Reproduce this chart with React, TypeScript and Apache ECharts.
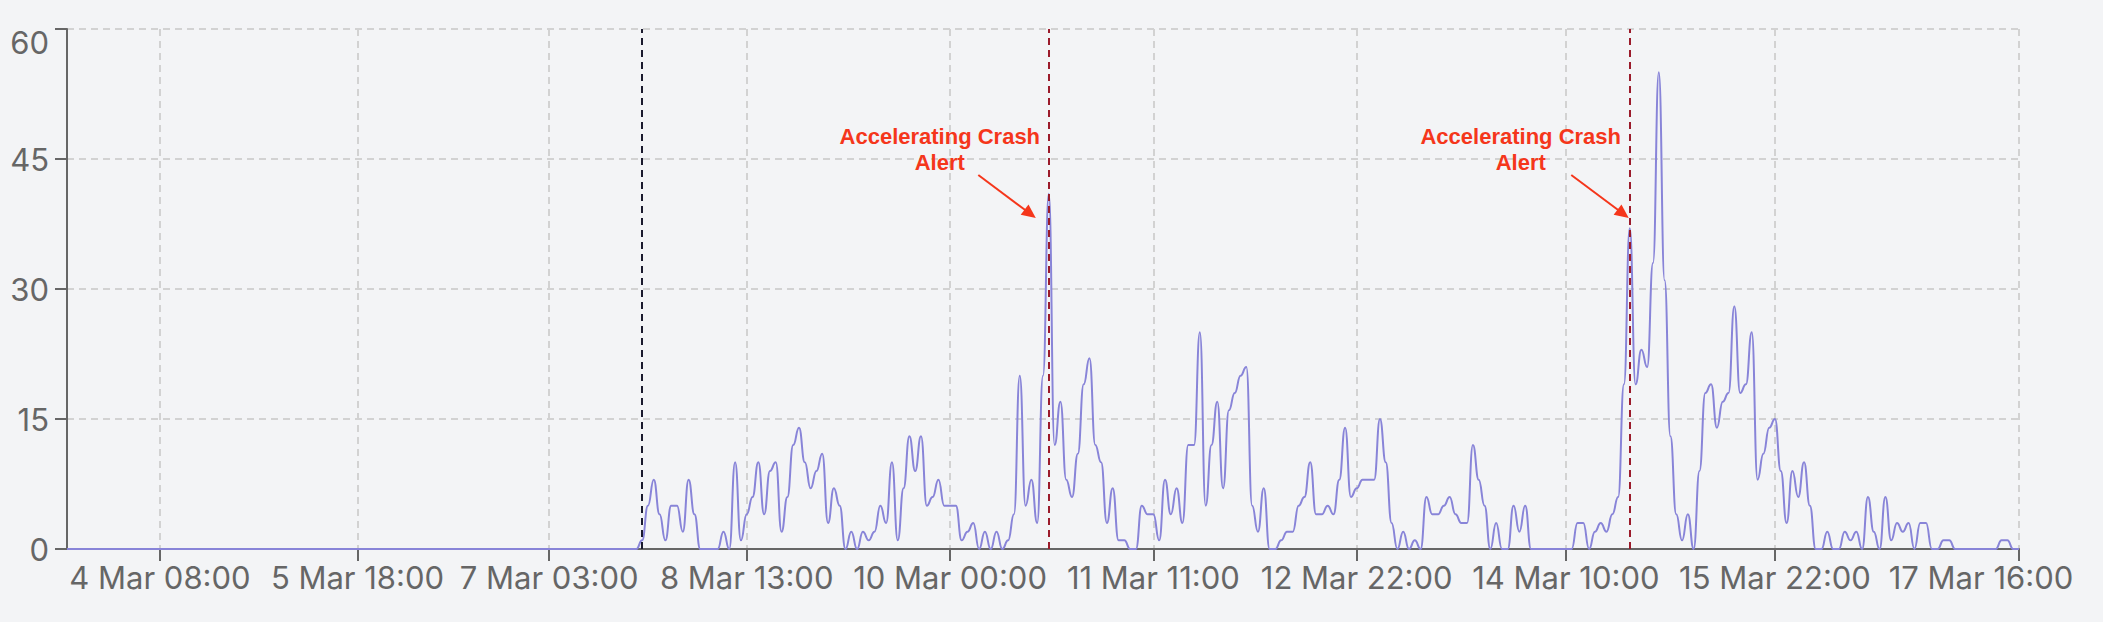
import React, { useEffect, useRef } from "react";
import * as echarts from "echarts";

// ---- data -------------------------------------------------------------
// hourly buckets from 3 Mar 16:00 to 17 Mar 16:00
const START_DAY = 3;
const START_HOUR = 16;
const HOUR_COUNT = 337;

const TICK_LABELS = [
  "4 Mar 08:00",
  "5 Mar 18:00",
  "7 Mar 03:00",
  "8 Mar 13:00",
  "10 Mar 00:00",
  "11 Mar 11:00",
  "12 Mar 22:00",
  "14 Mar 10:00",
  "15 Mar 22:00",
  "17 Mar 16:00",
];

const Y_TICKS = [0, 15, 30, 45, 60];

const VALUES = [
  // 3 Mar 16:00 .. 7 Mar 18:00 (all zero)
  0, 0, 0, 0, 0, 0, 0, 0, 0, 0,
  0, 0, 0, 0, 0, 0, 0, 0, 0, 0,
  0, 0, 0, 0, 0, 0, 0, 0, 0, 0,
  0, 0, 0, 0, 0, 0, 0, 0, 0, 0,
  0, 0, 0, 0, 0, 0, 0, 0, 0, 0,
  0, 0, 0, 0, 0, 0, 0, 0, 0, 0,
  0, 0, 0, 0, 0, 0, 0, 0, 0, 0,
  0, 0, 0, 0, 0, 0, 0, 0, 0, 0,
  0, 0, 0, 0, 0, 0, 0, 0, 0, 0,
  0, 0, 0, 0, 0, 0, 0, 0, 0,
  // 7 Mar 19:00 ..
  1, 5, 8, 4, 1, 5, 5, 2, 8, 4,
  0, 0, 0, 0, 2, 0, 10, 1, 4, 6,
  10, 4, 9, 10, 2, 6, 12, 14, 10, 7,
  9, 11, 3, 7, 5, 0, 2, 0, 2, 1,
  2, 5, 3, 10, 1, 7, 13, 9, 13, 5,
  6, 8, 5, 5, 5, 1, 2, 3, 0, 2,
  0, 2, 0, 1, 4, 20, 5, 8, 3, 20,
  41, 12, 17, 8, 6, 11, 19, 22, 12, 10,
  3, 7, 1, 1, 0, 0, 5, 4, 4, 1,
  8, 4, 7, 3, 12, 12, 25, 5, 12, 17,
  7, 16, 18, 20, 21, 5, 2, 7, 0, 0,
  1, 2, 2, 5, 6, 10, 4, 4, 5, 4,
  8, 14, 6, 7, 8, 8, 8, 15, 10, 3,
  0, 2, 0, 1, 0, 6, 4, 4, 5, 6,
  4, 3, 3, 12, 8, 5, 0, 3, 0, 0,
  5, 2, 5, 0, 0, 0, 0, 0, 0, 0,
  0, 3, 3, 0, 2, 3, 2, 4, 6, 19,
  37, 19, 23, 21, 33, 55, 31, 13, 4, 1,
  4, 0, 9, 18, 19, 14, 17, 18, 28, 18,
  19, 25, 8, 11, 14, 15, 9, 3, 9, 6,
  10, 5, 0, 0, 2, 0, 0, 2, 1, 2,
  0, 6, 2, 0, 6, 1, 3, 2, 3, 0,
  3, 3, 0, 0, 1, 1, 0, 0, 0, 0,
  0, 0, 0, 0, 1, 1, 0, 0,
];

const START_MARK = "7 Mar 19:00";
const ALERT_MARKS = ["10 Mar 17:00", "14 Mar 21:00"];
const ALERT_LINE_1 = "Accelerating Crash";
const ALERT_LINE_2 = "Alert";
const ARROW_TIP_DX = [-13, -1];

// ---- helpers -----------------------------------------------------------
const pad = (n: number) => (n < 10 ? "0" + n : String(n));
const CATEGORIES: string[] = [];
for (let i = 0; i < HOUR_COUNT; i++) {
  const h = START_HOUR + i;
  CATEGORIES.push(`${START_DAY + Math.floor(h / 24)} Mar ${pad(h % 24)}:00`);
}

const AXIS_GREY = "#666666";
const GRID_GREY = "#d2d2d2";
const LINE_COLOR = "#8884d8";
const ALERT_RED = "#f5361b";
const ALERT_LINE = "#9b1b2b";
const FONT = "Inter, 'Noto Sans', sans-serif";
const FONT_SIZE = 31;

export default function App() {
  const ref = useRef<HTMLDivElement>(null);

  useEffect(() => {
    if (!ref.current) return;
    document.body.style.margin = "0";
    document.body.style.background = "#f3f4f6";
    const chart = echarts.init(ref.current, undefined, { renderer: "svg" });
    const isTick = (_i: number, v: string) => TICK_LABELS.indexOf(v) >= 0;
    const last = TICK_LABELS[TICK_LABELS.length - 1];

    chart.setOption({
      animation: false,
      backgroundColor: "#f3f4f6",
      grid: { left: 67, right: 84, top: 29, bottom: 73, containLabel: false },
      xAxis: {
        type: "category",
        data: CATEGORIES,
        boundaryGap: false,
        axisLine: { show: true, lineStyle: { color: AXIS_GREY, width: 2 } },
        axisTick: {
          show: true,
          interval: isTick,
          length: 12,
          lineStyle: { color: AXIS_GREY, width: 2 },
        },
        axisLabel: {
          interval: isTick,
          margin: 13,
          color: AXIS_GREY,
          fontFamily: FONT,
          fontSize: FONT_SIZE,
          formatter: (v: string) => (v === last ? `{last|${v}}` : v),
          rich: {
            last: {
              fontFamily: FONT,
              fontSize: FONT_SIZE,
              color: AXIS_GREY,
              padding: [0, 76, 0, 0],
            },
          },
        },
        splitLine: {
          show: true,
          interval: isTick,
          lineStyle: { color: GRID_GREY, width: 2, type: [7, 5] },
        },
      },
      yAxis: {
        type: "value",
        min: Y_TICKS[0],
        max: Y_TICKS[Y_TICKS.length - 1],
        interval: Y_TICKS[1] - Y_TICKS[0],
        axisLine: { show: true, lineStyle: { color: AXIS_GREY, width: 2 } },
        axisTick: { show: true, length: 12, lineStyle: { color: AXIS_GREY, width: 2 } },
        axisLabel: {
          margin: 18,
          color: AXIS_GREY,
          fontFamily: FONT,
          fontSize: FONT_SIZE,
          formatter: (v: number) =>
            v === Y_TICKS[Y_TICKS.length - 1] ? `{top|${v}}` : String(v),
          rich: {
            top: {
              fontFamily: FONT,
              fontSize: FONT_SIZE,
              color: AXIS_GREY,
              padding: [26, 0, 0, 0],
            },
          },
        },
        splitLine: {
          show: true,
          lineStyle: { color: GRID_GREY, width: 2, type: [7, 5] },
        },
      },
      series: [
        {
          type: "line",
          data: VALUES,
          smooth: true,
          smoothMonotone: "x",
          showSymbol: false,
          symbol: "none",
          lineStyle: { color: LINE_COLOR, width: 2 },
          z: 3,
          markLine: {
            silent: true,
            symbol: ["none", "none"],
            label: { show: false },
            z: 4,
            data: [
              {
                xAxis: START_MARK,
                lineStyle: { color: "#1a1a2e", width: 2, type: [7, 5] },
              },
              ...ALERT_MARKS.map((m) => ({
                xAxis: m,
                lineStyle: { color: ALERT_LINE, width: 2, type: [7, 5] },
              })),
            ],
          },
        },
      ],
    });

    // annotations anchored on the alert categories
    const graphics: any[] = [];
    ALERT_MARKS.forEach((m, k) => {
      const x = chart.convertToPixel({ xAxisIndex: 0 }, CATEGORIES.indexOf(m)) as number;
      const cx = x - 109;
      const font = "bold 22px 'Liberation Sans', Arial, sans-serif";
      graphics.push({
        type: "text",
        z: 10,
        style: { text: ALERT_LINE_1, x: cx, y: 136, align: "center", verticalAlign: "middle", fill: ALERT_RED, font },
      });
      graphics.push({
        type: "text",
        z: 10,
        style: { text: ALERT_LINE_2, x: cx, y: 162, align: "center", verticalAlign: "middle", fill: ALERT_RED, font },
      });
      const tx = x + ARROW_TIP_DX[k];
      const ty = 218;
      const sx = tx - 57.5;
      const sy = 175;
      const len = Math.hypot(tx - sx, ty - sy);
      const ux = (tx - sx) / len;
      const uy = (ty - sy) / len;
      const hl = 14;
      const hw = 6.5;
      const bx = tx - ux * hl;
      const by = ty - uy * hl;
      graphics.push({
        type: "line",
        z: 10,
        shape: { x1: sx, y1: sy, x2: bx + ux * 2, y2: by + uy * 2 },
        style: { stroke: ALERT_RED, lineWidth: 2 },
      });
      graphics.push({
        type: "polygon",
        z: 10,
        shape: {
          points: [
            [tx, ty],
            [bx - uy * hw, by + ux * hw],
            [bx + uy * hw, by - ux * hw],
          ],
        },
        style: { fill: ALERT_RED },
      });
    });
    chart.setOption({ graphic: graphics });

    return () => chart.dispose();
  }, []);

  return (
    <div
      ref={ref}
      style={{ position: "fixed", left: 0, top: 0, width: 2103, height: 622 }}
    />
  );
}
